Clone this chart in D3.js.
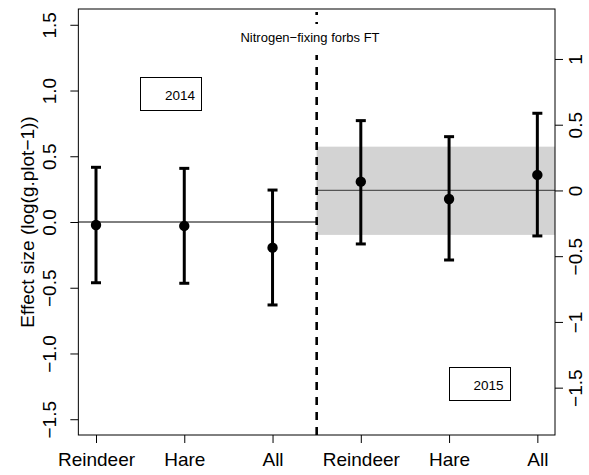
<!DOCTYPE html>
<html>
<head>
<meta charset="utf-8">
<script src="https://cdn.jsdelivr.net/npm/d3@7"></script>
<style>
  html, body { margin: 0; padding: 0; background: #fff; }
  svg { display: block; font-family: "Liberation Sans", Arial, Helvetica, sans-serif; }
</style>
</head>
<body>
<script>
// Effect sizes with confidence intervals per herbivore group, two seasons
const categories = ["Reindeer", "Hare", "All", "Reindeer", "Hare", "All"];
const groupPos = [1, 2, 3, 4, 5, 6];

// 2014 (left axis)
const est2014   = [-0.023, -0.030, -0.195];
const lower2014 = [-0.462, -0.466, -0.631];
const upper2014 = [ 0.416,  0.408,  0.243];

// 2015 (right axis)
const est2015   = [ 0.067, -0.065,  0.118];
const lower2015 = [-0.407, -0.529, -0.346];
const upper2015 = [ 0.531,  0.409,  0.587];
const band2015  = [-0.338, 0.333];

// right axis is the left axis shifted by this amount
const rightShift = 0.24;

const leftTicks  = [-1.5, -1.0, -0.5, 0.0, 0.5, 1.0, 1.5];
const leftTickLabels  = ["\u22121.5", "\u22121.0", "\u22120.5", "0.0", "0.5", "1.0", "1.5"];
const rightTicks = [-1.5, -1, -0.5, 0, 0.5, 1];
const rightTickLabels = ["\u22121.5", "\u22121", "\u22120.5", "0", "0.5", "1"];

const title = "Nitrogen\u2212fixing forbs FT";
const yLabel = "Effect size (log(g.plot\u22121))";
const legend2014 = "2014";
const legend2015 = "2015";

const W = 589, H = 475;
const box = { left: 78.35, right: 555, top: 9, bottom: 435 };

const svg = d3.select("body").append("svg").attr("width", W).attr("height", H);

const x = d3.scaleLinear().domain([0.8, 6.2]).range([box.left, box.right]);
const yL = d3.scaleLinear().domain([-1.62, 1.62]).range([box.bottom, box.top]);
const yR = d3.scaleLinear().domain([-1.62 - rightShift, 1.62 - rightShift]).range([box.bottom, box.top]);

const divider = 3.5;

// shaded band for 2015
svg.append("rect")
  .attr("x", x(divider)).attr("width", box.right - x(divider))
  .attr("y", yR(band2015[1])).attr("height", yR(band2015[0]) - yR(band2015[1]))
  .attr("fill", "#d3d3d3");

// zero reference lines
svg.append("line")
  .attr("x1", box.left).attr("x2", x(divider))
  .attr("y1", yL(0)).attr("y2", yL(0))
  .attr("stroke", "#000").attr("stroke-width", 1);
svg.append("line")
  .attr("x1", x(divider)).attr("x2", box.right)
  .attr("y1", yR(0)).attr("y2", yR(0))
  .attr("stroke", "#555").attr("stroke-width", 1.2);

// error bars and points
function drawSeries(pos, est, lo, hi, y) {
  const g = svg.append("g");
  const d = pos.map((p, i) => ({ p, e: est[i], lo: lo[i], hi: hi[i] }));
  const capW = 5;
  g.selectAll("line.v").data(d).join("line")
    .attr("x1", v => x(v.p)).attr("x2", v => x(v.p))
    .attr("y1", v => y(v.lo)).attr("y2", v => y(v.hi))
    .attr("stroke", "#000").attr("stroke-width", 3);
  g.selectAll("line.t").data(d).join("line")
    .attr("x1", v => x(v.p) - capW).attr("x2", v => x(v.p) + capW)
    .attr("y1", v => y(v.hi)).attr("y2", v => y(v.hi))
    .attr("stroke", "#000").attr("stroke-width", 3);
  g.selectAll("line.b").data(d).join("line")
    .attr("x1", v => x(v.p) - capW).attr("x2", v => x(v.p) + capW)
    .attr("y1", v => y(v.lo)).attr("y2", v => y(v.lo))
    .attr("stroke", "#000").attr("stroke-width", 3);
  g.selectAll("circle").data(d).join("circle")
    .attr("cx", v => x(v.p)).attr("cy", v => y(v.e)).attr("r", 5.2)
    .attr("fill", "#000");
}
drawSeries(groupPos.slice(0, 3), est2014, lower2014, upper2014, yL);
drawSeries(groupPos.slice(3, 6), est2015, lower2015, upper2015, yR);

// season divider
svg.append("line")
  .attr("x1", x(divider)).attr("x2", x(divider))
  .attr("y1", box.bottom).attr("y2", box.top + 3)
  .attr("stroke", "#000").attr("stroke-width", 2.6)
  .attr("stroke-dasharray", "8,7");

// panel title on a white background
const tx = 310;
svg.append("rect").attr("x", tx - 76).attr("y", 24).attr("width", 152).attr("height", 31).attr("fill", "#fff");
svg.append("text").attr("x", tx).attr("y", 41.5)
  .attr("text-anchor", "middle").attr("font-size", 13).text(title);

// season legends
function legendBox(x0, y0, x1, y1, tX, tY, label) {
  svg.append("rect").attr("x", x0).attr("y", y0).attr("width", x1 - x0).attr("height", y1 - y0)
    .attr("fill", "#fff").attr("stroke", "#000").attr("stroke-width", 1);
  svg.append("text").attr("x", tX).attr("y", tY).attr("font-size", 13.5).text(label);
}
legendBox(140.5, 77.5, 201.5, 110.5, 165, 100, legend2014);
legendBox(449.5, 367.5, 510.5, 400.5, 473.5, 389.5, legend2015);

// plot frame
svg.append("rect")
  .attr("x", box.left).attr("y", box.top)
  .attr("width", box.right - box.left).attr("height", box.bottom - box.top)
  .attr("fill", "none").attr("stroke", "#000").attr("stroke-width", 1);

// axes
const fs = 19;
const axL = svg.append("g").attr("transform", `translate(${box.left},0)`)
  .call(d3.axisLeft(yL).tickValues(leftTicks).tickSize(8)
    .tickFormat((d, i) => leftTickLabels[i]));
axL.select(".domain").remove();
axL.selectAll("text")
  .attr("transform", "rotate(-90)").attr("x", 0).attr("y", -22).attr("dy", null)
  .attr("text-anchor", "middle").attr("font-size", fs).attr("font-family", null);

const axR = svg.append("g").attr("transform", `translate(${box.right},0)`)
  .call(d3.axisRight(yR).tickValues(rightTicks).tickSize(8)
    .tickFormat((d, i) => rightTickLabels[i]));
axR.select(".domain").remove();
axR.selectAll("text")
  .attr("transform", "rotate(-90)").attr("x", 0).attr("y", 27).attr("dy", null)
  .attr("text-anchor", "middle").attr("font-size", fs).attr("font-family", null);

const axB = svg.append("g").attr("transform", `translate(0,${box.bottom})`)
  .call(d3.axisBottom(x).tickValues(groupPos).tickSize(8)
    .tickFormat((d, i) => categories[i]));
axB.select(".domain").remove();
axB.selectAll("text")
  .attr("y", 30.5).attr("dy", null)
  .attr("font-size", fs).attr("font-family", null);

svg.selectAll(".tick line").attr("stroke", "#000");
svg.selectAll(".tick text").attr("fill", "#000");

// y-axis title
svg.append("text")
  .attr("transform", `translate(34,${(box.top + box.bottom) / 2}) rotate(-90)`)
  .attr("text-anchor", "middle").attr("font-size", fs).text(yLabel);
</script>
</body>
</html>
